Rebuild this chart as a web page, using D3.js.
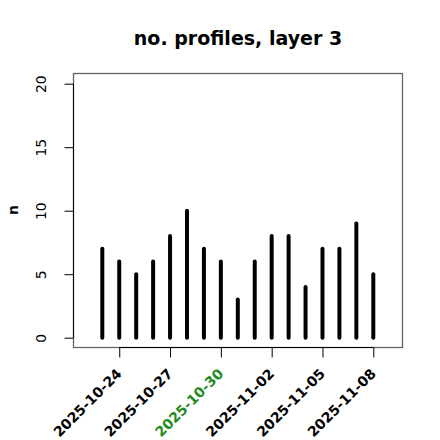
<!DOCTYPE html>
<html>
<head>
<meta charset="utf-8">
<script src="https://cdn.jsdelivr.net/npm/d3@7"></script>
<style>
  body { margin: 0; background: #fff; }
  text { font-family: "DejaVu Sans", sans-serif; }
</style>
</head>
<body>
<script>
// data
const dates = ["2025-10-23","2025-10-24","2025-10-25","2025-10-26","2025-10-27","2025-10-28",
  "2025-10-29","2025-10-30","2025-10-31","2025-11-01","2025-11-02","2025-11-03",
  "2025-11-04","2025-11-05","2025-11-06","2025-11-07","2025-11-08"];
const counts = [7,6,5,6,8,10,7,6,3,6,8,8,4,7,7,9,5];
const tickDates = ["2025-10-24","2025-10-27","2025-10-30","2025-11-02","2025-11-05","2025-11-08"];
const yTicks = [0,5,10,15,20];
const highlightDate = "2025-10-30";

const parse = d3.utcParse("%Y-%m-%d");
const fmt = d3.utcFormat("%Y-%m-%d");

const W = 440, H = 440;
const box = { left: 73.5, right: 402.5, top: 73.5, bottom: 347.5 };

const svg = d3.select("body").append("svg")
  .attr("width", W)
  .attr("height", H);

// X scale: first and last day placed to match the plot region padding
const xScale = d3.scaleUtc()
  .domain([parse(dates[0]), parse(dates[dates.length - 1])])
  .range([102.3, 373.3]);

const yScale = d3.scaleLinear()
  .domain([0, 20])
  .range([337.7, 83.7]);

// title
svg.append("text")
  .attr("x", (box.left + box.right) / 2)
  .attr("y", 45)
  .attr("text-anchor", "middle")
  .style("font-size", "19px")
  .style("font-weight", "bold")
  .text("no. profiles, layer 3");

// bars (type = "h")
svg.append("g")
  .selectAll("line")
  .data(dates)
  .join("line")
    .attr("x1", d => xScale(parse(d)))
    .attr("x2", d => xScale(parse(d)))
    .attr("y1", yScale(0))
    .attr("y2", (d, i) => yScale(counts[i]))
    .attr("stroke", "#000")
    .attr("stroke-width", 4)
    .attr("stroke-linecap", "round");

// box
svg.append("rect")
  .attr("x", box.left)
  .attr("y", box.top)
  .attr("width", box.right - box.left)
  .attr("height", box.bottom - box.top)
  .attr("fill", "none")
  .attr("stroke", "#666")
  .attr("stroke-width", 1.3);

// y axis
const yAxis = d3.axisLeft(yScale)
  .tickValues(yTicks)
  .tickSize(9)
  .tickFormat(d3.format("d"));

const gy = svg.append("g")
  .attr("transform", "translate(" + box.left + ",0)")
  .call(yAxis);
gy.select(".domain").attr("d", "M0," + yScale(0) + "V" + yScale(20)).attr("stroke", "#000");
gy.selectAll(".tick line").attr("stroke", "#000");
gy.selectAll(".tick text")
  .attr("x", null).attr("dy", null)
  .attr("text-anchor", "middle")
  .attr("transform", "translate(-28,0) rotate(-90)")
  .style("font-size", "14px")
  .style("font-family", "DejaVu Sans")
  .attr("fill", "#000");

// x axis
const xAxis = d3.axisBottom(xScale)
  .tickValues(tickDates.map(parse))
  .tickSize(10)
  .tickFormat(fmt);

const gx = svg.append("g")
  .attr("transform", "translate(0," + box.bottom + ")")
  .call(xAxis);
gx.select(".domain")
  .attr("d", "M" + xScale(parse(tickDates[0])) + ",0H" + xScale(parse(tickDates[tickDates.length - 1])))
  .attr("stroke", "#000");
gx.selectAll(".tick line").attr("stroke", "#000");
gx.selectAll(".tick text")
  .attr("y", null).attr("dy", null)
  .attr("text-anchor", "end")
  .attr("transform", "translate(3,27) rotate(-45)")
  .style("font-size", "14px")
  .style("font-weight", "bold")
  .style("font-family", "DejaVu Sans")
  .attr("fill", d => fmt(d) === highlightDate ? "#228B22" : "#000");

// y label
svg.append("text")
  .attr("transform", "translate(18,210) rotate(-90)")
  .attr("text-anchor", "middle")
  .style("font-size", "14px")
  .style("font-weight", "bold")
  .text("n");
</script>
</body>
</html>
